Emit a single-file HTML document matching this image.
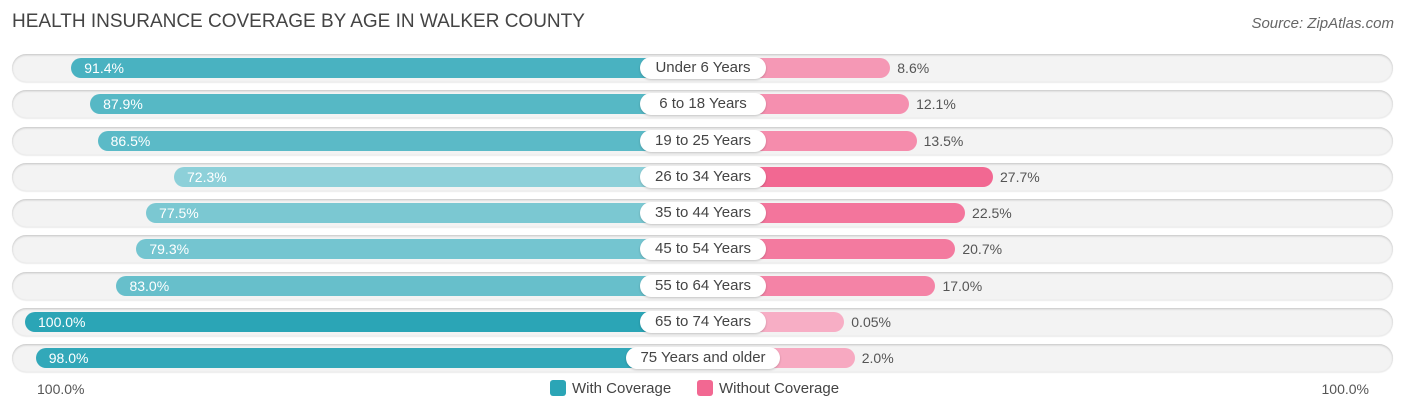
<!DOCTYPE html>
<html><head><meta charset="utf-8">
<style>
body{margin:0;background:#fff;font-family:"Liberation Sans",sans-serif;}
#wrap{position:relative;width:1406px;height:414px;overflow:hidden;}
.title{position:absolute;left:12px;top:11px;font-size:19px;color:#444;}
.src{position:absolute;right:12px;top:15px;font-size:15px;color:#666;font-style:italic;}
.row{position:absolute;left:12px;width:1381px;height:28px;border-radius:14px;background:#f3f3f3;box-shadow:0 1px 2px rgba(0,0,0,.2) inset,0 1px 1px rgba(0,0,0,.08);}
.bar{position:absolute;height:20px;border-radius:10px;}
.vl{position:absolute;font-size:14px;line-height:20px;}
.lab{position:absolute;height:22px;line-height:22px;border-radius:11px;background:#fff;font-size:15px;color:#444;text-align:center;box-shadow:0 1px 2px rgba(0,0,0,.2);}
.ax{position:absolute;top:381px;font-size:14px;color:#555;}
.leg{position:absolute;top:380px;font-size:15px;color:#444;}
.sw{display:inline-block;width:16px;height:16px;border-radius:3px;vertical-align:-3px;margin-right:6px;}
</style></head><body>
<div id="wrap">
<div class="title">HEALTH INSURANCE COVERAGE BY AGE IN WALKER COUNTY</div>
<div class="src">Source: ZipAtlas.com</div>
<div class="ax" style="left:37px">100.0%</div>
<div class="ax" style="right:37px">100.0%</div>
<div class="leg" style="left:550px"><span class="sw" style="background:#2ba5b6"></span>With Coverage</div>
<div class="leg" style="left:697px"><span class="sw" style="background:#f26892"></span>Without Coverage</div>
</div>
<script>
const categories=["Under 6 Years","6 to 18 Years","19 to 25 Years","26 to 34 Years","35 to 44 Years","45 to 54 Years","55 to 64 Years","65 to 74 Years","75 Years and older"];
const withCov=[91.4,87.9,86.5,72.3,77.5,79.3,83.0,100.0,98.0];
const withoutCov=[8.6,12.1,13.5,27.7,22.5,20.7,17.0,0.05,2.0];
const withLabels=["91.4%","87.9%","86.5%","72.3%","77.5%","79.3%","83.0%","100.0%","98.0%"];
const withoutLabels=["8.6%","12.1%","13.5%","27.7%","22.5%","20.7%","17.0%","0.05%","2.0%"];
const W=document.getElementById('wrap');
const leftZero=563,rightZero=844,scale=5.38,center=703,y0=68,dy=36.25;
const xL=v=>leftZero-v*scale, xR=v=>rightZero+v*scale;
function mix(a,b,t){return 'rgb('+a.map((c,i)=>Math.round(c+(b[i]-c)*t)).join(',')+')';}
const wMin=Math.min(...withCov),wMax=Math.max(...withCov),oMin=Math.min(...withoutCov),oMax=Math.max(...withoutCov);
categories.forEach((c,i)=>{
 const cy=y0+i*dy;
 const r=document.createElement('div');r.className='row';r.style.top=(cy-14)+'px';
 
 
 W.appendChild(r);
 const tw=(withCov[i]-wMin)/(wMax-wMin||1);
 const b=document.createElement('div');b.className='bar';
 b.style.left=xL(withCov[i])+'px';b.style.width=(center-xL(withCov[i]))+'px';b.style.top=(cy-10)+'px';
 b.style.background=mix([141,208,217],[43,165,182],tw);
 
 
 W.appendChild(b);
 const v=document.createElement('div');v.className='vl';v.textContent=withLabels[i];
 v.style.left=(xL(withCov[i])+13)+'px';v.style.top=(cy-10)+'px';v.style.color='#fff';
 
 
 W.appendChild(v);
 const to=(withoutCov[i]-oMin)/(oMax-oMin||1);
 const p=document.createElement('div');p.className='bar';
 p.style.left=center+'px';p.style.width=(xR(withoutCov[i])-center)+'px';p.style.top=(cy-10)+'px';
 p.style.background=mix([247,174,197],[242,104,146],to);
 
 
 W.appendChild(p);
 const u=document.createElement('div');u.className='vl';u.textContent=withoutLabels[i];
 u.style.left=(xR(withoutCov[i])+7)+'px';u.style.top=(cy-10)+'px';u.style.color='#555';
 
 
 W.appendChild(u);
 const l=document.createElement('div');l.className='lab';l.textContent=c;
 const lw=c.length>15?154:126;
 l.style.left=(center-lw/2)+'px';l.style.width=lw+'px';l.style.top=(cy-11)+'px';
 
 
 W.appendChild(l);
});
</script>
</body></html>
